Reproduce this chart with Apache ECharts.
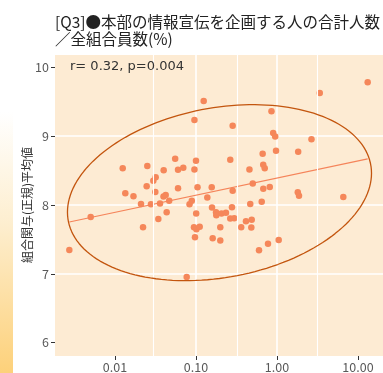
<!DOCTYPE html>
<html><head><meta charset="utf-8">
<script src="https://cdn.jsdelivr.net/npm/echarts@6/dist/echarts.min.js"></script>
<style>html,body{margin:0;padding:0;background:#fff}#c{width:383px;height:373px}</style>
</head><body><div id="c"></div>
<script>
const chartTitle = "[Q3]●本部の情報宣伝を企画する人の合計人数\n／全組合員数(%)";
const yTitle = "組合関与(正規)平均値";
const annotation = "r= 0.32, p=0.004";
const xTicks = [0.01, 0.1, 1, 10];
const yTicks = [6, 7, 8, 9, 10];
const xMinor = [0.003162, 0.03162, 0.3162, 3.162];

const xValues = [0.00273, 0.00501, 0.01245, 0.0134, 0.0169, 0.02094, 0.02218, 0.0246, 0.02506, 0.0278,
  0.02972, 0.03177, 0.03148, 0.03428, 0.03594, 0.0399, 0.03972, 0.04226, 0.04667, 0.04345,
  0.05534, 0.05998, 0.05998, 0.06966, 0.07674, 0.08318, 0.08873, 0.09572, 0.1245, 0.1,
  0.0957, 0.1044, 0.1005, 0.0944, 0.1012, 0.1111, 0.0972, 0.138, 0.1563, 0.1576,
  0.1767, 0.1781, 0.2065, 0.2343, 0.278, 0.1607, 0.1995, 0.1995, 0.2649, 0.2837,
  0.2837, 0.2649, 0.2965, 0.3614, 0.414, 0.4571, 0.4677, 0.4875, 0.482, 0.5023,
  0.5998, 0.6477, 0.6653, 0.6761, 0.7058, 0.6775, 0.8143, 0.7745, 0.8551, 0.8975,
  0.9506, 0.9727, 1.05, 1.806, 1.87, 1.827, 2.666, 3.376, 6.588, 13.18];
const yValues = [7.346, 7.826, 8.533, 8.17, 8.128, 8.015, 7.676, 8.272, 8.567, 8.012,
  8.353, 8.403, 8.189, 7.797, 8.022, 8.504, 8.124, 8.145, 8.061, 7.895,
  8.673, 8.513, 8.244, 8.542, 6.953, 8.012, 8.061, 9.235, 9.512, 8.644,
  8.516, 8.257, 7.876, 7.676, 7.648, 7.685, 7.531, 8.109, 8.257, 7.964,
  7.894, 7.85, 7.876, 7.887, 7.967, 7.516, 7.676, 7.484, 8.657, 9.153,
  8.206, 7.804, 7.808, 7.676, 7.765, 8.516, 8.015, 7.786, 7.673, 8.313,
  7.343, 8.047, 8.746, 8.586, 8.535, 8.235, 8.262, 7.437, 9.362, 9.047,
  8.994, 8.789, 7.491, 8.185, 8.135, 8.775, 8.955, 9.628, 8.116, 9.783];

// ellipse: centre (x, y), half extents (decades of x, units of y), tilt (correlation)
const ellipseCenter = [0.195, 8.179];
const ellipseHalfExtent = [1.877, 1.279];
const ellipseTilt = 0.221;

// least-squares line of y on log10(x), drawn over the data range (geom_smooth(method = "lm"))
function fitLine() {
  const X = xValues.map(v => Math.log10(v)), n = X.length;
  const mx = X.reduce((s, v) => s + v, 0) / n, my = yValues.reduce((s, v) => s + v, 0) / n;
  let sxx = 0, sxy = 0;
  for (let i = 0; i < n; i++) { sxx += (X[i] - mx) ** 2; sxy += (X[i] - mx) * (yValues[i] - my); }
  const b = sxy / sxx, a = my - b * mx;
  const lo = Math.min(...X), hi = Math.max(...X);
  return [[Math.pow(10, lo), a + b * lo], [Math.pow(10, hi), a + b * hi]];
}

function ellipsePath() {
  const cx = Math.log10(ellipseCenter[0]), cy = ellipseCenter[1];
  const [ax, by] = ellipseHalfExtent, rho = ellipseTilt, s = Math.sqrt(1 - rho * rho);
  const pts = [];
  for (let k = 0; k <= 160; k++) {
    const t = 2 * Math.PI * k / 160;
    pts.push([Math.pow(10, cx + ax * Math.cos(t)), cy + by * (rho * Math.cos(t) + s * Math.sin(t))]);
  }
  return pts;
}

const numFont = 'Noto Sans CJK JP';
const chart = echarts.init(document.getElementById('c'), null, {renderer: 'canvas'});
chart.setOption({
  animation: false,
  backgroundColor: '#ffffff',
  title: {
    text: chartTitle, left: 55, top: 14, padding: 0,
    textStyle: {fontFamily: 'Noto Sans CJK JP', fontSize: 15.5, lineHeight: 17, fontWeight: 'normal', color: '#222'}
  },
  grid: {left: 55, right: 0, top: 55, bottom: 17, show: true, backgroundColor: '#fdebd3', borderWidth: 0, outerBoundsMode: 'none'},
  xAxis: {
    type: 'log', logBase: 10, min: 0.001816, max: 20.37,
    axisLine: {show: false},
    axisTick: {show: true, length: 4, lineStyle: {color: '#333', width: 1}, customValues: xTicks},
    axisLabel: {customValues: xTicks, formatter: v => Number(v).toFixed(2), color: '#595959', fontSize: 12.5, fontFamily: numFont, margin: 5},
    splitLine: {show: true, showMinLine: false, showMaxLine: false, lineStyle: {color: '#ffffff', width: 1.6}},
    minorSplitLine: {show: false}
  },
  yAxis: {
    type: 'value', min: 5.805, max: 10.18,
    axisLine: {show: false},
    axisTick: {show: true, length: 4, lineStyle: {color: '#333', width: 1}, customValues: yTicks},
    axisLabel: {customValues: yTicks, color: '#595959', fontSize: 12.5, fontFamily: numFont, margin: 6},
    splitLine: {show: true, showMinLine: false, showMaxLine: false, lineStyle: {color: '#ffffff', width: 1.6}}
  },
  graphic: [
    {type: 'rect', left: 0, top: 0, z: -1, shape: {width: 13, height: 373},
     style: {fill: new echarts.graphic.LinearGradient(0, 0, 0, 1, [
       {offset: 0, color: '#ffffff'}, {offset: 0.3, color: '#ffffff'}, {offset: 0.6, color: '#fdeecf'}, {offset: 1, color: '#fdd17a'}])}},
    {type: 'text', x: 27, y: 205, rotation: Math.PI / 2,
     style: {text: yTitle, fontFamily: 'Noto Sans CJK JP', fontSize: 12, fill: '#333', align: 'center', verticalAlign: 'middle'}},
    {type: 'text', x: 70, y: 67, z: 10,
     style: {text: annotation, fontFamily: 'DejaVu Sans', fontSize: 13, fill: '#333', align: 'left', verticalAlign: 'middle'}}
  ],
  series: [
    {type: 'line', data: [], z: 1, silent: true,
     markLine: {silent: true, symbol: 'none', animation: false, label: {show: false},
       lineStyle: {color: '#ffffff', width: 1.1, type: 'solid'},
       data: xMinor.map(v => ({xAxis: v}))}},
    {type: 'scatter', data: xValues.map((x, i) => [x, yValues[i]]), symbolSize: 6.5, z: 3,
     itemStyle: {color: '#f5875a', opacity: 1}},
    {type: 'line', data: fitLine(), showSymbol: false, symbol: 'none', z: 4,
     lineStyle: {color: '#f5845a', width: 1.2}},
    {type: 'line', data: ellipsePath(), showSymbol: false, symbol: 'none', z: 5, smooth: false,
     lineStyle: {color: '#c3550e', width: 1.3}}
  ]
});
</script></body></html>
